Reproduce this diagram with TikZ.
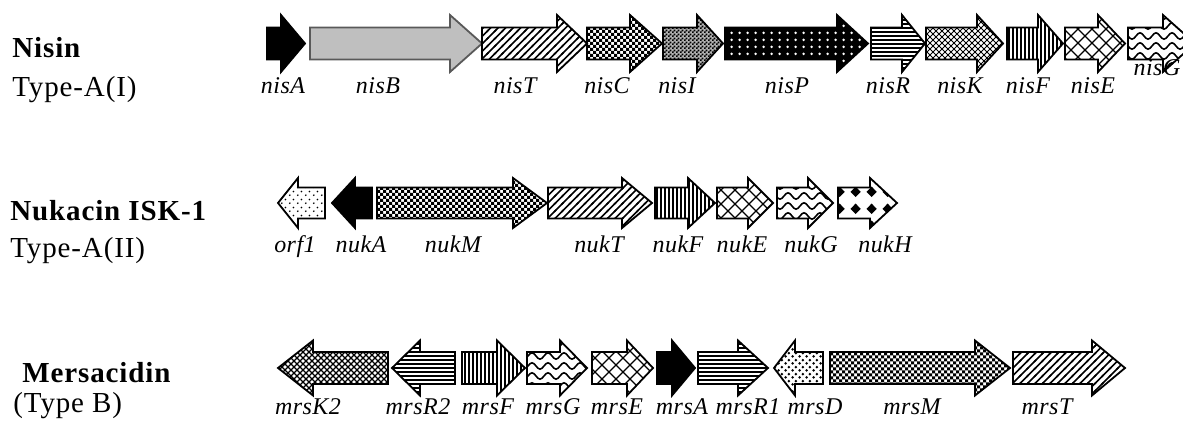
\documentclass[tikz,border=0pt]{standalone}
\usepackage{fontspec}
\setmainfont{Liberation Serif}
\newfontfamily\titlefont[LetterSpace=3]{Liberation Serif}
\newfontfamily\labfont[LetterSpace=2]{Liberation Serif}
\usetikzlibrary{patterns}

% ---------- fill patterns (one drawing unit = 0.5pt) ----------
% diagonal stripes
\pgfdeclarepatternformonly{gstripes}{\pgfqpoint{-1pt}{-1pt}}{\pgfqpoint{4.75pt}{4.75pt}}{\pgfqpoint{3.75pt}{3.75pt}}{%
  \pgfsetlinewidth{0.85pt}%
  \pgfpathmoveto{\pgfqpoint{-0.5pt}{-0.5pt}}\pgfpathlineto{\pgfqpoint{4.25pt}{4.25pt}}\pgfusepath{stroke}}
% fine checker board
\pgfdeclarepatternformonly{gfine}{\pgfqpoint{0pt}{0pt}}{\pgfqpoint{2pt}{2pt}}{\pgfqpoint{2pt}{2pt}}{%
  \pgfpathrectangle{\pgfqpoint{0pt}{0pt}}{\pgfqpoint{1pt}{1pt}}%
  \pgfpathrectangle{\pgfqpoint{1pt}{1pt}}{\pgfqpoint{1pt}{1pt}}%
  \pgfusepath{fill}}
% grid of round dots
\pgfdeclarepatternformonly{ggriddots}{\pgfqpoint{0pt}{0pt}}{\pgfqpoint{4pt}{3.5pt}}{\pgfqpoint{4pt}{3.5pt}}{%
  \pgfpathcircle{\pgfqpoint{2pt}{1.75pt}}{0.8pt}\pgfusepath{fill}}
% horizontal lines
\pgfdeclarepatternformonly{ghlines}{\pgfqpoint{-0.2pt}{0pt}}{\pgfqpoint{1.2pt}{2pt}}{\pgfqpoint{1pt}{2pt}}{%
  \pgfpathrectangle{\pgfqpoint{-0.2pt}{0pt}}{\pgfqpoint{1.4pt}{0.85pt}}\pgfusepath{fill}}
% vertical lines
\pgfdeclarepatternformonly{gvlines}{\pgfqpoint{0pt}{-0.2pt}}{\pgfqpoint{2pt}{1.2pt}}{\pgfqpoint{2pt}{1pt}}{%
  \pgfpathrectangle{\pgfqpoint{0pt}{-0.2pt}}{\pgfqpoint{0.85pt}{1.4pt}}\pgfusepath{fill}}
% small diagonal cross-hatch, heavy
\pgfdeclarepatternformonly{gsmallx}{\pgfqpoint{-0.5pt}{-0.5pt}}{\pgfqpoint{3.5pt}{3.5pt}}{\pgfqpoint{3pt}{3pt}}{%
  \pgfsetlinewidth{0.6pt}%
  \pgfpathmoveto{\pgfqpoint{-0.2pt}{-0.2pt}}\pgfpathlineto{\pgfqpoint{3.2pt}{3.2pt}}%
  \pgfpathmoveto{\pgfqpoint{-0.2pt}{3.2pt}}\pgfpathlineto{\pgfqpoint{3.2pt}{-0.2pt}}%
  \pgfusepath{stroke}}
% small diagonal cross-hatch, light
\pgfdeclarepatternformonly{gsmallxlight}{\pgfqpoint{-0.5pt}{-0.5pt}}{\pgfqpoint{3.5pt}{3.5pt}}{\pgfqpoint{3pt}{3pt}}{%
  \pgfsetlinewidth{0.4pt}%
  \pgfpathmoveto{\pgfqpoint{-0.2pt}{-0.2pt}}\pgfpathlineto{\pgfqpoint{3.2pt}{3.2pt}}%
  \pgfpathmoveto{\pgfqpoint{-0.2pt}{3.2pt}}\pgfpathlineto{\pgfqpoint{3.2pt}{-0.2pt}}%
  \pgfusepath{stroke}}
% large diagonal cross-hatch
\pgfdeclarepatternformonly{gbigx}{\pgfqpoint{-0.5pt}{-0.5pt}}{\pgfqpoint{7.5pt}{7.5pt}}{\pgfqpoint{7pt}{7pt}}{%
  \pgfsetlinewidth{0.65pt}%
  \pgfpathmoveto{\pgfqpoint{-0.2pt}{-0.2pt}}\pgfpathlineto{\pgfqpoint{7.2pt}{7.2pt}}%
  \pgfpathmoveto{\pgfqpoint{-0.2pt}{7.2pt}}\pgfpathlineto{\pgfqpoint{7.2pt}{-0.2pt}}%
  \pgfusepath{stroke}}
% waves
\pgfdeclarepatternformonly{gwaves}{\pgfqpoint{-0.5pt}{-0.5pt}}{\pgfqpoint{8.5pt}{5.5pt}}{\pgfqpoint{8pt}{5pt}}{%
  \pgfsetlinewidth{0.8pt}%
  \pgfpathmoveto{\pgfqpoint{0pt}{2.5pt}}%
  \pgfpathsine{\pgfqpoint{2pt}{1.6pt}}\pgfpathcosine{\pgfqpoint{2pt}{-1.6pt}}%
  \pgfpathsine{\pgfqpoint{2pt}{-1.6pt}}\pgfpathcosine{\pgfqpoint{2pt}{1.6pt}}%
  \pgfusepath{stroke}}
% sparse staggered dots
\pgfdeclarepatternformonly{gsparsedots}{\pgfqpoint{0pt}{0pt}}{\pgfqpoint{4pt}{4pt}}{\pgfqpoint{4pt}{4pt}}{%
  \pgfpathcircle{\pgfqpoint{1pt}{1pt}}{0.5pt}%
  \pgfpathcircle{\pgfqpoint{3pt}{3pt}}{0.5pt}\pgfusepath{fill}}
% larger staggered dots
\pgfdeclarepatternformonly{gbigdots}{\pgfqpoint{0pt}{0pt}}{\pgfqpoint{3.6pt}{3.6pt}}{\pgfqpoint{3.6pt}{3.6pt}}{%
  \pgfpathcircle{\pgfqpoint{0.9pt}{0.9pt}}{0.8pt}%
  \pgfpathcircle{\pgfqpoint{2.7pt}{2.7pt}}{0.8pt}\pgfusepath{fill}}
% solid diamonds
\pgfdeclarepatternformonly{gdiamonds}{\pgfqpoint{0pt}{0pt}}{\pgfqpoint{8pt}{8.5pt}}{\pgfqpoint{8pt}{8.5pt}}{%
  \pgfpathmoveto{\pgfqpoint{4pt}{1.5pt}}\pgfpathlineto{\pgfqpoint{6.7pt}{4.25pt}}%
  \pgfpathlineto{\pgfqpoint{4pt}{7pt}}\pgfpathlineto{\pgfqpoint{1.3pt}{4.25pt}}\pgfpathclose
  \pgfusepath{fill}}

% outline of one gene arrow: tail x, head base x, tip x, centre y, shaft half height, head half height
\newcommand\arrowpath[6]{(#1,#4-#5) -- (#2,#4-#5) -- (#2,#4-#6) -- (#3,#4)
    -- (#2,#4+#6) -- (#2,#4+#5) -- (#1,#4+#5) -- cycle}
% one gene arrow: style, then the six values above
\newcommand\gene[7]{\path[gene,#1] \arrowpath{#2}{#3}{#4}{#5}{#6}{#7};}
% a gene arrow filled with a black and white checker board of 3-unit squares
\newcommand\checkergene[6]{%
  \begin{scope}
    \clip \arrowpath{#1}{#2}{#3}{#4}{#5}{#6};
    \foreach \i in {0,...,30}{\foreach \j in {0,...,9}{%
      \fill (#1+\i*6,#4-#6+\j*6) rectangle ++(3,3)
            (#1+\i*6+3,#4-#6+\j*6+3) rectangle ++(3,3);}}
  \end{scope}
  \path[gene] \arrowpath{#1}{#2}{#3}{#4}{#5}{#6};}

\begin{document}
\begin{tikzpicture}[x=0.5pt,y=-0.5pt,
  gene/.style={draw=black,line width=0.9pt,line join=miter},
  blk/.style={fill=black},
  grey/.style={fill=black!25,draw=black!65},
  stripes/.style={pattern=gstripes},
  finechk/.style={preaction={fill=black!30},pattern=gfine},
  inkdots/.style={preaction={fill=black},pattern=ggriddots,pattern color=white},
  hstripes/.style={pattern=ghlines},
  vstripes/.style={pattern=gvlines},
  smallx/.style={pattern=gsmallx},
  lightx/.style={pattern=gsmallxlight},
  bigx/.style={pattern=gbigx},
  waves/.style={pattern=gwaves},
  sparsedots/.style={pattern=gsparsedots},
  bigdots/.style={pattern=gbigdots},
  diamonds/.style={pattern=gdiamonds},
  title/.style={anchor=base west,inner sep=0pt,font=\titlefont\bfseries\fontsize{14.5}{16}\selectfont},
  subtitle/.style={anchor=base west,inner sep=0pt,font=\titlefont\fontsize{14.5}{16}\selectfont},
  lab/.style={anchor=base,inner sep=0pt,font=\labfont\itshape\fontsize{12}{14}\selectfont}]

\useasboundingbox[fill=white] (0,0) rectangle (1183,421);

% ---------------- Nisin ----------------
\def\cy{43.5}\def\sh{16}\def\hh{28.5}
\gene{blk}{267}{281}{305}{\cy}{\sh}{\hh}
\gene{grey}{310}{450}{482}{\cy}{\sh}{\hh}
\gene{stripes}{482}{557}{587}{\cy}{\sh}{\hh}
\checkergene{587}{630}{662}{\cy}{\sh}{\hh}
\gene{finechk}{663}{697}{723}{\cy}{\sh}{\hh}
\gene{inkdots}{725}{837}{868}{\cy}{\sh}{\hh}
\gene{hstripes}{871}{902}{925}{\cy}{\sh}{\hh}
\gene{lightx}{926}{977}{1003}{\cy}{\sh}{\hh}
\gene{vstripes}{1007}{1038}{1063}{\cy}{\sh}{\hh}
\gene{bigx}{1065}{1098}{1125}{\cy}{\sh}{\hh}
\gene{waves}{1128}{1163}{1195}{\cy}{\sh}{\hh}

\node[title] (nisin) at (12,58) {Nisin};
\node[subtitle] (typeAI) at (12,97) {Type-A(I)};
\node[lab] (nisA) at (283,94) {nisA};
\node[lab] (nisB) at (378,94) {nisB};
\node[lab] (nisT) at (515,94) {nisT};
\node[lab] (nisC) at (607,94) {nisC};
\node[lab] (nisI) at (677,94) {nisI};
\node[lab] (nisP) at (787,94) {nisP};
\node[lab] (nisR) at (888,94) {nisR};
\node[lab] (nisK) at (960,94) {nisK};
\node[lab] (nisF) at (1028,94) {nisF};
\node[lab] (nisE) at (1093,94) {nisE};
\node[lab] (nisG) at (1157,76) {nisG};

% ---------------- Nukacin ISK-1 ----------------
\def\cy{203}\def\sh{15.5}\def\hh{25}
\gene{sparsedots}{325}{298}{278}{\cy}{\sh}{\hh}
\gene{blk}{372}{355}{332}{\cy}{\sh}{\hh}
\checkergene{377}{513}{547}{\cy}{\sh}{\hh}
\gene{stripes}{548}{622}{652}{\cy}{\sh}{\hh}
\gene{vstripes}{655}{688}{715}{\cy}{\sh}{\hh}
\gene{bigx}{717}{748}{773}{\cy}{\sh}{\hh}
\gene{waves}{777}{808}{833}{\cy}{\sh}{\hh}
\gene{diamonds}{838}{870}{897}{\cy}{\sh}{\hh}

\node[title] (nukacin) at (10,221) {Nukacin ISK-1};
\node[subtitle] (typeAII) at (10,258) {Type-A(II)};
\node[lab] (orf1) at (295,253) {orf1};
\node[lab] (nukA) at (361,253) {nukA};
\node[lab] (nukM) at (453,253) {nukM};
\node[lab] (nukT) at (599,253) {nukT};
\node[lab] (nukF) at (678,253) {nukF};
\node[lab] (nukE) at (742,253) {nukE};
\node[lab] (nukG) at (811,253) {nukG};
\node[lab] (nukH) at (885,253) {nukH};

% ---------------- Mersacidin ----------------
\def\cy{368}\def\sh{16}\def\hh{27.5}
\gene{smallx}{388}{313}{278}{\cy}{\sh}{\hh}
\gene{hstripes}{455}{420}{392}{\cy}{\sh}{\hh}
\gene{vstripes}{462}{497}{525}{\cy}{\sh}{\hh}
\gene{waves}{527}{560}{587}{\cy}{\sh}{\hh}
\gene{bigx}{592}{627}{653}{\cy}{\sh}{\hh}
\gene{blk}{657}{672}{695}{\cy}{\sh}{\hh}
\gene{hstripes}{698}{738}{768}{\cy}{\sh}{\hh}
\gene{bigdots}{823}{795}{774}{\cy}{\sh}{\hh}
\checkergene{830}{975}{1010}{\cy}{\sh}{\hh}
\gene{stripes}{1013}{1092}{1125}{\cy}{\sh}{\hh}

\node[title] (mersacidin) at (22,383) {Mersacidin};
\node[subtitle] (typeB) at (13,413) {(Type B)};
\node[lab] (mrsK2) at (308,415) {mrsK2};
\node[lab] (mrsR2) at (418,415) {mrsR2};
\node[lab] (mrsF) at (488,415) {mrsF};
\node[lab] (mrsG) at (553,415) {mrsG};
\node[lab] (mrsE) at (617,415) {mrsE};
\node[lab] (mrsA) at (682,415) {mrsA};
\node[lab] (mrsR1) at (748,415) {mrsR1};
\node[lab] (mrsD) at (815,415) {mrsD};
\node[lab] (mrsM) at (912,415) {mrsM};
\node[lab] (mrsT) at (1047,415) {mrsT};
\end{tikzpicture}
\end{document}
